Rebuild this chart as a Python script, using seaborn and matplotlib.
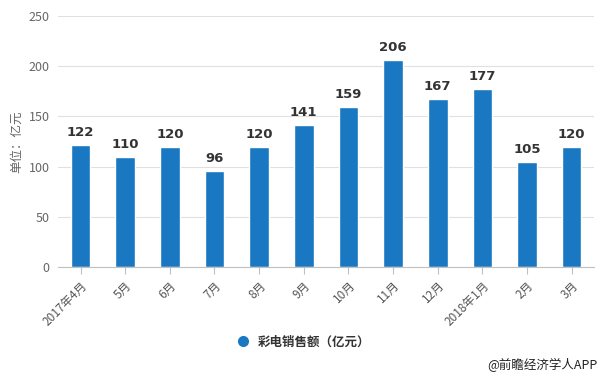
import matplotlib
matplotlib.use("Agg")
import matplotlib.pyplot as plt
import seaborn as sns
import pandas as pd
from matplotlib.lines import Line2D

categories = ["2017年4月", "5月", "6月", "7月", "8月", "9月", "10月", "11月", "12月", "2018年1月", "2月", "3月"]
sales = [122, 110, 120, 96, 120, 141, 159, 206, 167, 177, 105, 120]
series_name = "彩电销售额（亿元）"
y_ticks = [0, 50, 100, 150, 200, 250]

sns.set_theme(style="white")
plt.rcParams['font.family'] = ['Noto Sans CJK SC', 'DejaVu Sans']

df = pd.DataFrame({"month": categories, "value": sales})

fig = plt.figure(figsize=(6, 3.8), dpi=100)
ax = fig.add_axes([0.097, 0.297, 0.893, 0.661])

blue = "#1a78c2"
sns.barplot(data=df, x="month", y="value", color=blue, width=0.44, ax=ax, saturation=1)

ax.set_ylim(0, 250)
ax.set_yticks(y_ticks)
ax.set_xlim(-0.5, len(categories) - 0.5)
ax.yaxis.grid(True, color="#e0e0e0", linewidth=0.8)
ax.set_axisbelow(True)
for s in ["top", "right", "left"]:
    ax.spines[s].set_visible(False)
ax.spines["bottom"].set_color("#c0c0c0")
ax.spines["bottom"].set_linewidth(0.8)

ax.tick_params(axis="y", length=0, labelsize=9, colors="#666666", pad=6)
ax.tick_params(axis="x", length=5, width=0.8, color="#c0c0c0", labelsize=8.5, colors="#555555", bottom=True)
ax.set_xticks(range(len(categories)))
ax.set_xticklabels(categories, rotation=45, ha="right", rotation_mode="anchor")
ax.set_xlabel("")
ax.set_ylabel("单位：亿元", fontsize=9, color="#666666", labelpad=4)

for i, v in enumerate(sales):
    ax.text(i, v + 6, str(v), ha="center", va="bottom", fontsize=9.5, fontweight="bold",
            color="#333333", family=["DejaVu Sans"])

handle = Line2D([0], [0], marker="o", color="w", markerfacecolor=blue, markersize=9)
fig.legend([handle], [series_name], loc="center", bbox_to_anchor=(0.5, 0.1), frameon=False,
           prop={"size": 9, "weight": "bold"}, handletextpad=0.2, labelcolor="#333333")

fig.text(0.995, 0.02, "@前瞻经济学人APP", ha="right", va="bottom", fontsize=9, color="#222222")

fig.savefig("out.png", dpi=100)
